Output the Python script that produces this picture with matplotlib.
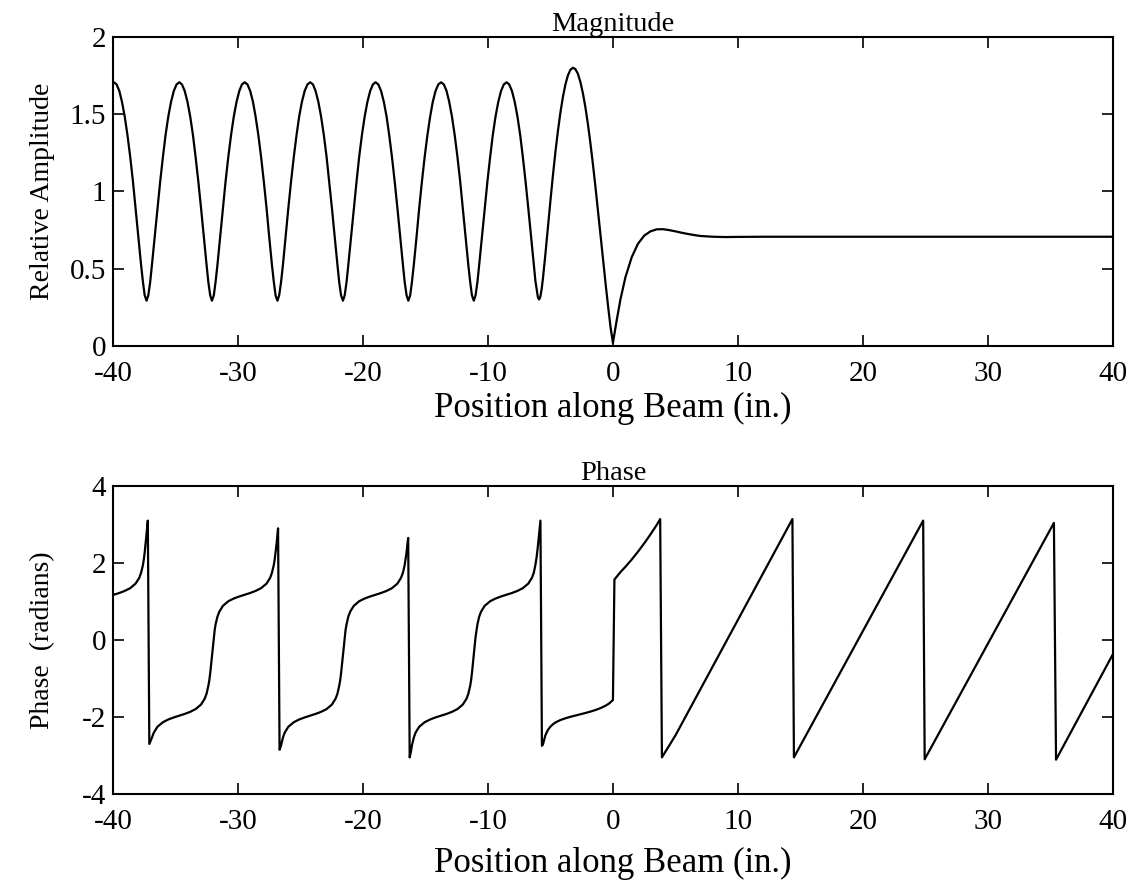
import matplotlib
matplotlib.use("Agg")
import matplotlib.pyplot as plt

plt.rcParams["font.family"] = ["Liberation Serif", "DejaVu Serif"]
plt.rcParams["axes.unicode_minus"] = False

mag_pos = [
    -40.00,
    -39.93, -39.71, -39.49, -39.28, -39.06, -38.84, -38.62, -38.40, -38.19, -37.97,
    -37.75, -37.60, -37.46, -37.31, -37.17, -37.02, -36.88, -36.66, -36.44, -36.22,
    -36.00, -35.79, -35.57, -35.35, -35.13, -34.91,
    -34.69, -34.48, -34.26, -34.04, -33.82, -33.60, -33.39, -33.17, -32.95, -32.73,
    -32.51, -32.37, -32.22, -32.08, -31.93, -31.79, -31.64, -31.42, -31.20, -30.99,
    -30.77, -30.55, -30.33, -30.11, -29.89, -29.68,
    -29.46, -29.24, -29.02, -28.80, -28.59, -28.37, -28.15, -27.93, -27.71, -27.50,
    -27.28, -27.13, -26.99, -26.84, -26.70, -26.55, -26.40, -26.19, -25.97, -25.75,
    -25.53, -25.31, -25.10, -24.88, -24.66, -24.44,
    -24.22, -24.00, -23.79, -23.57, -23.35, -23.13, -22.91, -22.70, -22.48, -22.26,
    -22.04, -21.90, -21.75, -21.60, -21.46, -21.31, -21.17, -20.95, -20.73, -20.51,
    -20.30, -20.08, -19.86, -19.64, -19.42, -19.20,
    -18.99, -18.77, -18.55, -18.33, -18.11, -17.90, -17.68, -17.46, -17.24, -17.02,
    -16.80, -16.66, -16.51, -16.37, -16.22, -16.08, -15.93, -15.71, -15.50, -15.28,
    -15.06, -14.84, -14.62, -14.41, -14.19, -13.97,
    -13.75, -13.53, -13.31, -13.10, -12.88, -12.66, -12.44, -12.22, -12.01, -11.79,
    -11.57, -11.42, -11.28, -11.13, -10.99, -10.84, -10.70, -10.48, -10.26, -10.04,
    -9.82, -9.61, -9.39, -9.17, -8.95, -8.73,
    -8.51, -8.30, -8.08, -7.86, -7.64, -7.42, -7.21, -6.99, -6.77, -6.55,
    -6.33,
    -6.20, -6.00, -5.90, -5.80, -5.70, -5.60, -5.40, -5.20, -5.00, -4.80,
    -4.60, -4.40, -4.20, -4.00, -3.80, -3.60, -3.40, -3.20, -3.00, -2.80,
    -2.60, -2.40, -2.20, -2.00, -1.80, -1.60, -1.40, -1.20, -1.00, -0.80,
    -0.60, -0.40, -0.20, 0.00,
    0.30, 0.60, 1.00, 1.50, 2.00, 2.50, 3.00, 3.50, 4.00, 4.50, 5.00,
    5.50, 6.00, 6.50, 7.00, 8.00, 9.00, 10.00, 12.00, 40.00,
]
mag_val = [
    1.706,
    1.707, 1.693, 1.651, 1.581, 1.486, 1.366, 1.225, 1.065, 0.891, 0.707,
    0.525, 0.414, 0.328, 0.293, 0.328, 0.414, 0.525, 0.707, 0.891, 1.065,
    1.225, 1.366, 1.486, 1.581, 1.651, 1.693,
    1.707, 1.693, 1.651, 1.581, 1.486, 1.366, 1.225, 1.065, 0.891, 0.707,
    0.525, 0.414, 0.328, 0.293, 0.328, 0.414, 0.525, 0.707, 0.891, 1.065,
    1.225, 1.366, 1.486, 1.581, 1.651, 1.693,
    1.707, 1.693, 1.651, 1.581, 1.486, 1.366, 1.225, 1.065, 0.891, 0.707,
    0.525, 0.414, 0.328, 0.293, 0.328, 0.414, 0.525, 0.707, 0.891, 1.065,
    1.225, 1.366, 1.486, 1.581, 1.651, 1.693,
    1.707, 1.693, 1.651, 1.581, 1.486, 1.366, 1.225, 1.065, 0.891, 0.707,
    0.525, 0.414, 0.328, 0.293, 0.328, 0.414, 0.525, 0.707, 0.891, 1.065,
    1.225, 1.366, 1.486, 1.581, 1.651, 1.693,
    1.707, 1.693, 1.651, 1.581, 1.486, 1.366, 1.225, 1.065, 0.891, 0.707,
    0.525, 0.414, 0.328, 0.293, 0.328, 0.414, 0.525, 0.707, 0.891, 1.065,
    1.225, 1.366, 1.486, 1.581, 1.651, 1.693,
    1.707, 1.693, 1.651, 1.581, 1.486, 1.366, 1.225, 1.065, 0.891, 0.707,
    0.525, 0.414, 0.328, 0.293, 0.328, 0.414, 0.525, 0.707, 0.891, 1.065,
    1.225, 1.366, 1.486, 1.581, 1.651, 1.693,
    1.707, 1.693, 1.651, 1.581, 1.486, 1.366, 1.225, 1.065, 0.891, 0.707,
    0.525,
    0.420, 0.314, 0.301, 0.321, 0.370, 0.436, 0.597, 0.769, 0.940, 1.104,
    1.257, 1.392, 1.512, 1.613, 1.693, 1.752, 1.788, 1.801, 1.792, 1.761,
    1.708, 1.635, 1.544, 1.435, 1.312, 1.176, 1.031, 0.879, 0.723, 0.567,
    0.413, 0.266, 0.127, 0.020,
    0.165, 0.301, 0.445, 0.574, 0.661, 0.714, 0.742, 0.755, 0.756, 0.750, 0.742,
    0.733, 0.725, 0.718, 0.712, 0.707, 0.705, 0.706, 0.707, 0.707,
]

phase_pos = [
    -40.00, -39.93, -39.49, -39.06, -38.62, -38.19, -37.89, -37.75, -37.60, -37.53,
    -37.46, -37.39, -37.31, -37.24, -37.21, -37.09, -36.88, -36.73, -36.44, -36.00,
    -35.57, -35.13,
    -34.69, -34.26, -33.82, -33.39, -32.95, -32.66, -32.51, -32.37, -32.29, -32.22,
    -32.15, -32.08, -32.00, -31.93, -31.86, -31.79, -31.64, -31.49, -31.20, -30.77,
    -30.33, -29.89,
    -29.46, -29.02, -28.59, -28.15, -27.71, -27.42, -27.28, -27.13, -27.06, -26.99,
    -26.91, -26.84, -26.79, -26.67, -26.55, -26.40, -26.26, -25.97, -25.53, -25.10,
    -24.66,
    -24.22, -23.79, -23.35, -22.91, -22.48, -22.19, -22.04, -21.90, -21.82, -21.75,
    -21.68, -21.60, -21.53, -21.46, -21.39, -21.31, -21.17, -21.02, -20.73, -20.30,
    -19.86, -19.42,
    -18.99, -18.55, -18.11, -17.68, -17.24, -16.95, -16.80, -16.66, -16.59, -16.51,
    -16.44, -16.38, -16.26, -16.15, -16.08, -15.93, -15.79, -15.50, -15.06, -14.62,
    -14.19,
    -13.75, -13.31, -12.88, -12.44, -12.01, -11.71, -11.57, -11.42, -11.35, -11.28,
    -11.21, -11.13, -11.06, -10.99, -10.91, -10.84, -10.70, -10.55, -10.26, -9.82,
    -9.39, -8.95,
    -8.51, -8.08, -7.64, -7.21, -6.77, -6.48, -6.33, -6.20, -6.10, -6.00,
    -5.90, -5.80, -5.68, -5.60, -5.40, -5.20, -5.00, -4.80, -4.60, -4.40,
    -4.20, -3.80, -3.40, -3.00, -2.60, -2.20, -1.80, -1.40, -1.00, -0.60,
    -0.30, 0.00,
    0.12, 0.60, 1.00, 1.50, 2.00, 2.50, 3.00, 3.50, 3.78, 3.92, 5.00,
    14.36, 14.48, 24.82, 24.94, 35.28, 35.45, 40.00,
]
phase_val = [
    1.168, 1.175, 1.220, 1.274, 1.345, 1.464, 1.616, 1.745, 1.947, 2.091,
    2.274, 2.497, 2.746, 2.995, 3.100, -2.700, -2.536, -2.407, -2.255, -2.136,
    -2.065, -2.012,
    -1.966, -1.921, -1.867, -1.796, -1.677, -1.525, -1.397, -1.194, -1.050, -0.867,
    -0.645, -0.395, -0.146, 0.077, 0.259, 0.404, 0.606, 0.735, 0.887, 1.006,
    1.077, 1.130,
    1.175, 1.220, 1.274, 1.345, 1.464, 1.616, 1.745, 1.947, 2.091, 2.274,
    2.497, 2.746, 2.900, -2.850, -2.738, -2.536, -2.407, -2.255, -2.136, -2.065,
    -2.012,
    -1.966, -1.921, -1.867, -1.796, -1.677, -1.525, -1.397, -1.194, -1.050, -0.867,
    -0.645, -0.395, -0.146, 0.077, 0.259, 0.404, 0.606, 0.735, 0.887, 1.006,
    1.077, 1.130,
    1.175, 1.220, 1.274, 1.345, 1.464, 1.616, 1.745, 1.947, 2.091, 2.274,
    2.497, 2.650, -3.050, -2.883, -2.738, -2.536, -2.407, -2.255, -2.136, -2.065,
    -2.012,
    -1.966, -1.921, -1.867, -1.796, -1.677, -1.525, -1.397, -1.194, -1.050, -0.867,
    -0.645, -0.395, -0.146, 0.077, 0.259, 0.404, 0.606, 0.735, 0.887, 1.006,
    1.077, 1.130,
    1.175, 1.220, 1.274, 1.345, 1.464, 1.616, 1.745, 1.955, 2.163, 2.444,
    2.780, 3.100, -2.750, -2.715, -2.473, -2.336, -2.250, -2.190, -2.145, -2.110,
    -2.080, -2.034, -1.996, -1.962, -1.930, -1.897, -1.861, -1.820, -1.771, -1.709,
    -1.649, -1.560,
    1.570, 1.762, 1.901, 2.088, 2.291, 2.508, 2.740, 2.985, 3.140, -3.050, -2.480,
    3.140, -3.050, 3.100, -3.100, 3.040, -3.110, -0.370,
]

x_ticks = [-40, -30, -20, -10, 0, 10, 20, 30, 40]
mag_ticks = [0, 0.5, 1, 1.5, 2]
mag_ticklabels = ["0", "0.5", "1", "1.5", "2"]
phase_ticks = [-4, -2, 0, 2, 4]

fig = plt.figure(figsize=(11.34, 8.81), dpi=100)
ax1 = fig.add_axes([0.0996, 0.6073, 0.8818, 0.3507])
ax2 = fig.add_axes([0.0996, 0.0988, 0.8818, 0.3496])

ax1.plot(mag_pos, mag_val, color="black", lw=1.6)
ax1.set_ylim(0, 2)
ax1.set_yticks(mag_ticks)
ax1.set_yticklabels(mag_ticklabels)
ax1.set_ylabel("Relative Amplitude", fontsize=20)
ax1.set_title("Magnitude", fontsize=20.5, pad=4.5)

ax2.plot(phase_pos, phase_val, color="black", lw=1.6)
ax2.set_ylim(-4, 4)
ax2.set_yticks(phase_ticks)
ax2.set_ylabel("Phase  (radians)", fontsize=20)
ax2.set_title("Phase", fontsize=20.5, pad=4.5)

for ax in (ax1, ax2):
    ax.set_xlim(-40, 40)
    ax.set_xticks(x_ticks)
    ax.set_xlabel("Position along Beam (in.)", fontsize=25)
    ax.tick_params(direction="in", length=8, width=1.2, top=True, right=True,
                   labelsize=21, pad=10.5)
    ax.tick_params(axis="y", pad=5)
    for sp in ax.spines.values():
        sp.set_linewidth(1.5)
    ax.yaxis.set_label_coords(-0.058, 0.5)

ax1.xaxis.set_label_coords(0.5, -0.150)
ax2.xaxis.set_label_coords(0.5, -0.172)

fig.savefig("out.png", dpi=100)
